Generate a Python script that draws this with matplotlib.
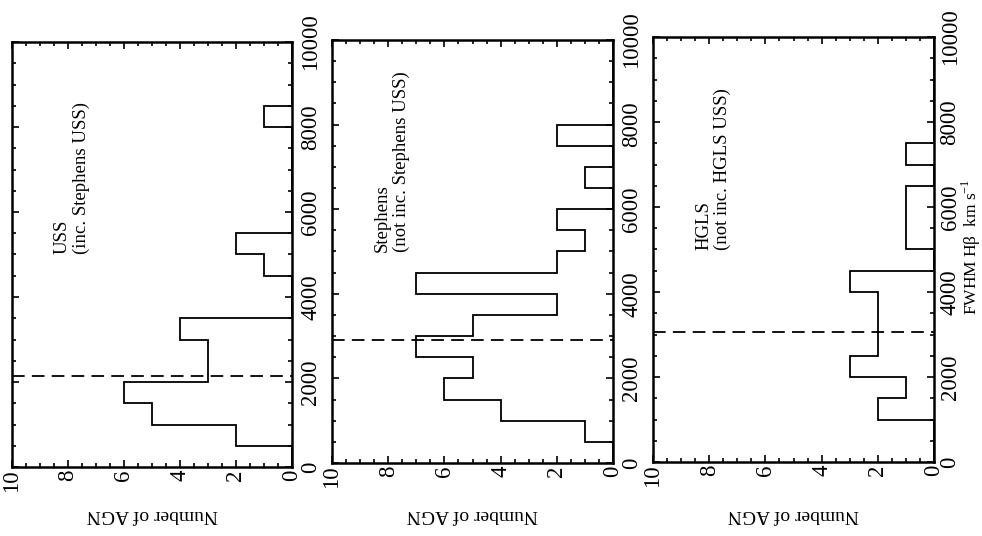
import numpy as np
import matplotlib
matplotlib.use("Agg")
import matplotlib.pyplot as plt
from matplotlib.ticker import MultipleLocator

plt.rcParams['font.family'] = ['Liberation Serif', 'DejaVu Serif']
plt.rcParams['mathtext.fontset'] = 'custom'
plt.rcParams['mathtext.rm'] = 'Liberation Serif'

# FWHM bin edges (km/s) and counts per bin
bin_edges = list(range(0, 10001, 500))
uss_counts = [0, 2, 5, 6, 3, 3, 4, 0, 0, 1, 2, 0, 0, 0, 0, 0, 1, 0, 0, 0]
stephens_counts = [0, 1, 4, 6, 5, 7, 5, 2, 7, 2, 1, 2, 0, 1, 0, 2, 0, 0, 0, 0]
hgls_counts = [0, 0, 2, 1, 3, 2, 2, 2, 3, 0, 1, 1, 1, 0, 1, 0, 0, 0, 0, 0]
medians = [2150, 2900, 3050]
panel_texts = ["USS\n(inc. Stephens USS)",
               "Stephens\n(not inc. Stephens USS)",
               "HGLS\n(not inc. HGLS USS)"]
fwhm_ticks = [0, 2000, 4000, 6000, 8000, 10000]
count_ticks = [10, 8, 6, 4, 2, 0]

W, H = 982, 536
fig = plt.figure(figsize=(W / 100, H / 100), dpi=100)

# (left, top, right, bottom) in pixels
boxes = [(12, 42, 292, 467), (332, 40, 613, 463), (653, 37, 934, 462)]
series = [uss_counts, stephens_counts, hgls_counts]

for i, (box, counts) in enumerate(zip(boxes, series)):
    l, t, r, b = box
    ax = fig.add_axes([l / W, 1 - b / H, (r - l) / W, (b - t) / H])
    ax.stairs(counts, bin_edges, orientation='horizontal', baseline=0,
              color='black', lw=1.3)
    ax.plot([10, 0], [medians[i], medians[i]], color='black', lw=1.3,
            dashes=(7, 4))
    ax.set_xlim(10, 0)
    ax.set_ylim(0, 10000)
    ax.xaxis.set_minor_locator(MultipleLocator(0.5))
    ax.yaxis.set_minor_locator(MultipleLocator(500))
    ax.set_xticks(count_ticks)
    ax.set_yticks(fwhm_ticks)
    ax.tick_params(which='both', direction='in', top=True, bottom=True,
                   left=True, right=True, labelleft=False, labelright=True,
                   labelbottom=True, width=1.2, labelsize=16.5)
    ax.tick_params(which='major', length=5)
    ax.tick_params(which='minor', length=3)
    ax.tick_params(axis='x', labelrotation=90, pad=2)
    ax.tick_params(axis='y', labelrotation=90, pad=4 if i == 2 else 6)
    for lab in ax.get_yticklabels():
        lab.set_verticalalignment('center')
    for s in ax.spines.values():
        s.set_linewidth(1.8)
    fig.text((l + r) / 2 / W, 1 - 514 / H, 'Number of AGN', rotation=180,
             fontsize=14, ha='center', va='center')
    ax.text(8.5, 5000, panel_texts[i], rotation=90, ha='left', va='bottom',
            fontsize=13.5, multialignment='left', linespacing=1.15)

fig.text(971 / W, 1 - 247 / H, 'FWHM H\u03b2  km s$^{\\mathrm{-1}}$',
         rotation=90, fontsize=12.5, ha='center', va='center')

fig.savefig('out.png', dpi=100)
